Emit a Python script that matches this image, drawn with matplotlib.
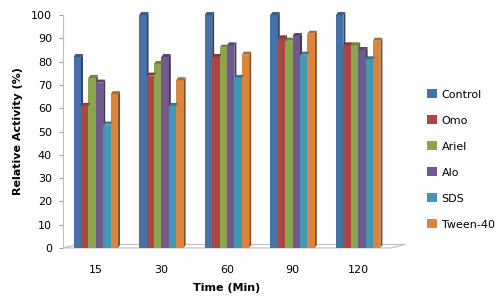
import numpy as np
import matplotlib.pyplot as plt
import matplotlib.colors as mc
from matplotlib.patches import Polygon

times = ['15', '30', '60', '90', '120']
series = ['Control', 'Omo', 'Ariel', 'Alo', 'SDS', 'Tween-40']
control = [82, 100, 100, 100, 100]
omo = [61, 74, 82, 90, 87]
ariel = [73, 79, 86, 89, 87]
alo = [71, 82, 87, 91, 85]
sds = [53, 61, 73, 83, 81]
tween = [66, 72, 83, 92, 89]
colors = ['#4572A7', '#AA4643', '#89A54E', '#71588F', '#4198AF', '#DB843D']

values = [control, omo, ariel, alo, sds, tween]

fig = plt.figure(figsize=(5, 3.02), dpi=100)
ax = fig.add_axes([0.126, 0.179, 0.656, 0.771])

x = np.arange(len(times))
w = 0.113
dx, dy = 0.03, 1.3  # fake depth for 3d look

def darker(c, f):
    r, g, b = mc.to_rgb(c)
    return (r * f, g * f, b * f)

for i, (name, vals) in enumerate(zip(series, values)):
    xs = x - 2.5 * w + i * w
    ax.bar(xs, vals, width=w, color=colors[i], label=name, zorder=3, linewidth=0, clip_on=False)
    for xc, v in zip(xs, vals):
        r = xc + w / 2
        l = xc - w / 2
        side = Polygon([(r, 0), (r + dx, dy), (r + dx, v + dy), (r, v)],
                       closed=True, color=darker(colors[i], 0.6), lw=0, zorder=2, clip_on=False)
        top = Polygon([(l, v), (l + dx, v + dy), (r + dx, v + dy), (r, v)],
                      closed=True, color=darker(colors[i], 0.8), lw=0, zorder=4, clip_on=False)
        ax.add_patch(side)
        ax.add_patch(top)

# floor
floor = Polygon([(-0.5, 0), (4.5, 0), (4.5 + 0.22, 1.5), (-0.5 + 0.22, 1.5)],
                closed=True, facecolor='none', edgecolor='#BFBFBF', lw=0.8, zorder=1, clip_on=False)
ax.add_patch(floor)

ax.set_xlim(-0.5, 4.5)
ax.set_ylim(0, 100)
ax.set_yticks(range(0, 101, 10))
ax.set_xticks(x)
ax.set_xticklabels(times)
ax.tick_params(axis='y', labelsize=8, length=3, color='#A0A0A0', pad=5)
ax.tick_params(axis='x', labelsize=8, length=0, pad=12)
for s in ['top', 'right', 'bottom']:
    ax.spines[s].set_visible(False)
ax.spines['left'].set_color('#BFBFBF')

ax.set_ylabel('Relative Activity (%)', fontsize=8, fontweight='bold', labelpad=6)
ax.set_xlabel('Time (Min)', fontsize=8, fontweight='bold', labelpad=6)

ax.legend(loc='center left', bbox_to_anchor=(1.08, 0.38), frameon=False, fontsize=8,
          handlelength=0.9, handleheight=0.9, handletextpad=0.4, labelspacing=1.4)

fig.savefig('out.png', dpi=100)
